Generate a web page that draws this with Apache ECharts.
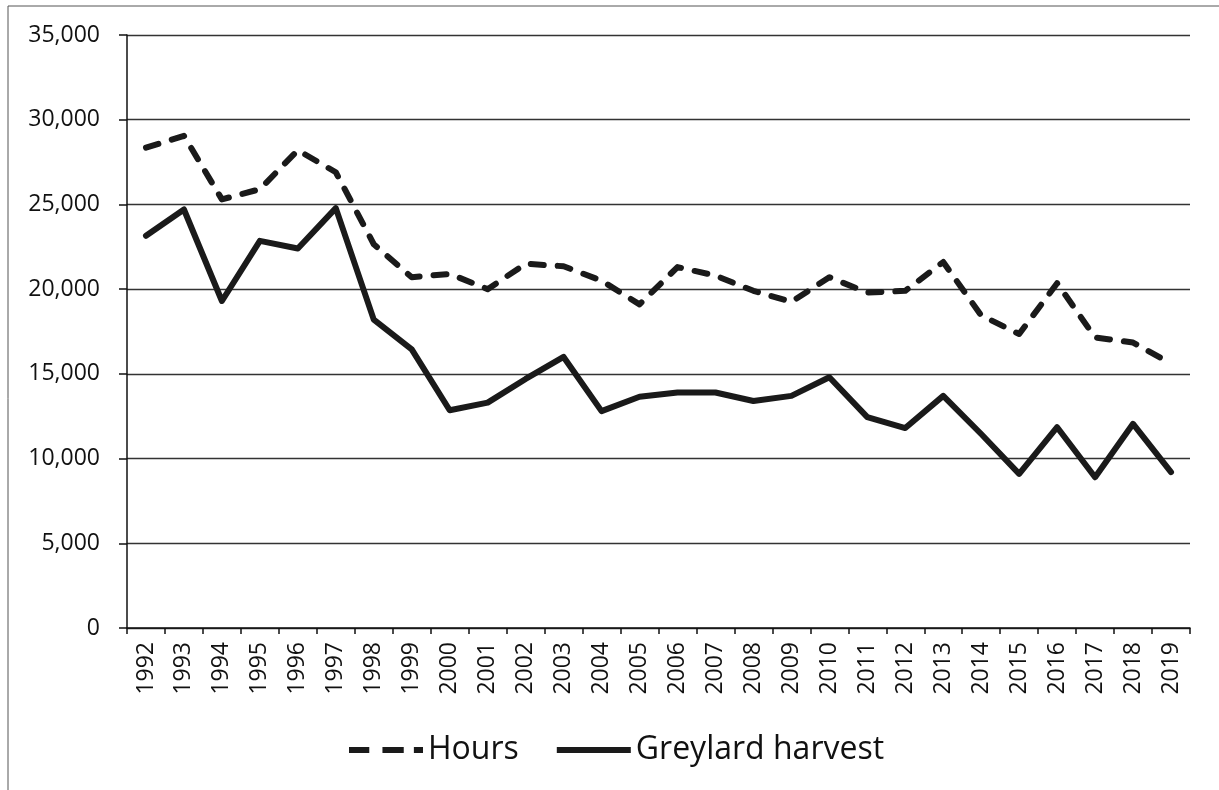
<!DOCTYPE html>
<html>
<head>
<meta charset="utf-8">
<title>Hours and Greylard harvest</title>
<script src="https://cdn.jsdelivr.net/npm/echarts@6/dist/echarts.min.js"></script>
<style>
  html, body { margin: 0; padding: 0; background: #fff; }
  #chart { width: 1219px; height: 790px; }
</style>
</head>
<body>
<div id="chart"></div>
<script>
// 年份（类目轴）
const years = ["1992", "1993", "1994", "1995", "1996", "1997", "1998", "1999", "2000", "2001",
  "2002", "2003", "2004", "2005", "2006", "2007", "2008", "2009", "2010", "2011",
  "2012", "2013", "2014", "2015", "2016", "2017", "2018", "2019"];

// Hours (dashed)
const hours = [28350, 29050, 25300, 25900, 28200, 26900, 22650, 20700, 20900, 20000,
  21500, 21350, 20500, 19100, 21300, 20800, 19900, 19250, 20700, 19800,
  19900, 21600, 18450, 17350, 20350, 17150, 16850, 15600];

// Greylard harvest (solid)
const harvest = [23150, 24700, 19300, 22850, 22400, 24780, 18200, 16450, 12850, 13300,
  14700, 16000, 12800, 13650, 13900, 13900, 13400, 13700, 14800, 12450,
  11800, 13700, 11450, 9100, 11850, 8900, 12050, 9200];

// y 轴刻度
const yTicks = [0, 5000, 10000, 15000, 20000, 25000, 30000, 35000];

const font = "'Open Sans', 'Noto Sans', sans-serif";
const ink = "#111";
const lineInk = "#1a1a1a";

// 图例图标：虚线 + 点 / 实线
const dashIcon = "path://M0,0h20v6h-20z M33,0h21v6h-21z M64,0h9v6h-9z";
const solidIcon = "path://M0,0h74v6h-74z";

const chart = echarts.init(document.getElementById("chart"));

const option = {
  backgroundColor: "#fff",
  animation: false,
  textStyle: { fontFamily: font, color: ink },
  graphic: [
    {
      // 外框
      type: "rect",
      shape: { x: 8, y: 6, width: 1240, height: 810 },
      style: { fill: "none", stroke: "#555", lineWidth: 1 },
      silent: true,
    },
  ],
  grid: {
    left: 127,
    right: 29,
    top: 35,
    bottom: 162,
  },
  legend: {
    top: 729,
    left: 344,
    itemWidth: 74,
    itemHeight: 6,
    itemGap: 38,
    symbolKeepAspect: false,
    textStyle: { fontFamily: font, fontSize: 32, color: ink },
    data: [
      { name: "Hours", icon: dashIcon, itemStyle: { color: lineInk } },
      { name: "Greylard harvest", icon: solidIcon, itemStyle: { color: lineInk } },
    ],
  },
  xAxis: {
    type: "category",
    data: years,
    boundaryGap: true,
    axisLine: { lineStyle: { color: ink, width: 1.5 } },
    axisTick: { show: true, length: 6, alignWithLabel: false, lineStyle: { color: ink, width: 1.5 } },
    axisLabel: {
      rotate: 90,
      interval: 0,
      margin: 14,
      fontSize: 23,
      fontFamily: font,
      color: ink,
    },
    splitLine: { show: false },
  },
  yAxis: {
    type: "value",
    min: yTicks[0],
    max: yTicks[yTicks.length - 1],
    interval: 5000,
    axisLine: { show: true, lineStyle: { color: ink, width: 1.5 } },
    axisTick: { show: true, length: 8, lineStyle: { color: ink, width: 1.5 } },
    axisLabel: {
      margin: 27,
      fontSize: 23,
      fontFamily: font,
      color: ink,
      formatter: (v) => v.toLocaleString("en-US"),
    },
    splitLine: { show: true, lineStyle: { color: "#333", width: 1.3 } },
  },
  series: [
    {
      name: "Hours",
      type: "line",
      data: hours,
      symbol: "none",
      color: lineInk,
      lineStyle: {
        color: lineInk,
        width: 6,
        type: [13, 14],
        cap: "round",
        join: "round",
      },
      z: 3,
    },
    {
      name: "Greylard harvest",
      type: "line",
      data: harvest,
      symbol: "none",
      color: lineInk,
      lineStyle: {
        color: lineInk,
        width: 6,
        type: "solid",
        cap: "round",
        join: "round",
      },
      z: 2,
    },
  ],
};

chart.setOption(option);
window.addEventListener("resize", () => {
  chart.resize();
});
</script>
</body>
</html>
